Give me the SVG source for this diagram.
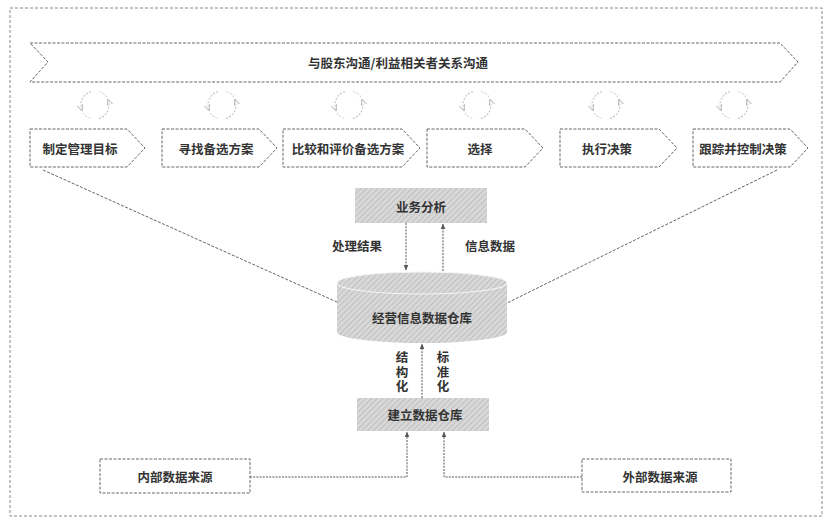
<svg xmlns="http://www.w3.org/2000/svg" width="834" height="527" viewBox="0 0 834 527">
<defs>
<pattern id="hatch" width="4" height="4" patternUnits="userSpaceOnUse" patternTransform="rotate(45)">
<rect width="4" height="4" fill="#d8d8d8"/>
<line x1="0" y1="0" x2="0" y2="4" stroke="#b4b4b4" stroke-width="1.4"/>
</pattern>
<marker id="ah" viewBox="0 0 10 10" refX="9" refY="5" markerWidth="6" markerHeight="6" orient="auto">
<path d="M0,1 L10,5 L0,9 Z" fill="#555"/>
</marker>
<marker id="ahc" viewBox="0 0 10 10" refX="8" refY="5" markerWidth="5" markerHeight="5" orient="auto">
<path d="M0,1 L10,5 L0,9" fill="none" stroke="#c4c4c4" stroke-width="1.5"/>
</marker>
<g id="cyc">
<path d="M-4,-13.5 A14,14 0 0 0 -13,5" fill="none" stroke="#cfcfcf" stroke-width="1.4" stroke-dasharray="2 1.5" marker-end="url(#ahc)"/>
<path d="M4,13.5 A14,14 0 0 0 13,-5" fill="none" stroke="#cfcfcf" stroke-width="1.4" stroke-dasharray="2 1.5" marker-end="url(#ahc)"/>
<path d="M-12,8 A14,14 0 0 0 -3,13.7" fill="none" stroke="#d8d8d8" stroke-width="1.2" stroke-dasharray="2 1.5"/>
<path d="M12,-8 A14,14 0 0 0 3,-13.7" fill="none" stroke="#d8d8d8" stroke-width="1.2" stroke-dasharray="2 1.5"/>
</g>
</defs>
<style>
.frame{fill:none;stroke:#888;stroke-width:1;stroke-dasharray:3 2}
.box{fill:#fff;stroke:#666;stroke-width:1;stroke-dasharray:3 1.5}
.gbox{fill:url(#hatch);stroke:none}
.t{font-family:"Noto Sans CJK SC","Noto Sans",sans-serif;font-weight:bold;font-size:12.5px;fill:#333;text-anchor:middle;dominant-baseline:central}
.v{font-family:"Noto Sans CJK SC","Noto Sans",sans-serif;font-weight:bold;font-size:12.5px;fill:#333;text-anchor:middle;writing-mode:vertical-rl;letter-spacing:2px}
.conn{fill:none;stroke:#666;stroke-width:1;stroke-dasharray:3 1.5}
.arr{fill:none;stroke:#555;stroke-width:1;stroke-dasharray:2 1.2}
</style>
<rect width="834" height="527" fill="#fff"/>
<rect class="frame" x="10" y="8" width="812" height="508"/>

<g id="banner">
<path class="box" d="M30,43 L780,43 L798,62 L780,82 L30,82 L48,62 Z"/>
<text class="t" x="398" y="62">与股东沟通/利益相关者关系沟通</text>
</g>

<g id="cycles">
<use href="#cyc" x="95" y="105"/>
<use href="#cyc" x="222" y="105"/>
<use href="#cyc" x="349" y="105"/>
<use href="#cyc" x="477" y="105"/>
<use href="#cyc" x="606" y="105"/>
<use href="#cyc" x="734" y="105"/>
</g>

<g id="step1"><path class="box" d="M30,129 L127,129 L145,148 L127,167 L30,167 Z"/><text class="t" x="80" y="148">制定管理目标</text></g>
<g id="step2"><path class="box" d="M162,129 L259,129 L277,148 L259,167 L162,167 Z"/><text class="t" x="216" y="148">寻找备选方案</text></g>
<g id="step3"><path class="box" d="M283,129 L402,129 L420,148 L402,167 L283,167 Z"/><text class="t" x="348" y="148">比较和评价备选方案</text></g>
<g id="step4"><path class="box" d="M427,129 L525,129 L543,148 L525,167 L427,167 Z"/><text class="t" x="480" y="148">选择</text></g>
<g id="step5"><path class="box" d="M560,129 L659,129 L677,148 L659,167 L560,167 Z"/><text class="t" x="607" y="148">执行决策</text></g>
<g id="step6"><path class="box" d="M693,129 L790,129 L808,148 L790,167 L693,167 Z"/><text class="t" x="743" y="148">跟踪并控制决策</text></g>

<g id="analysis"><rect class="gbox" x="355" y="188" width="132" height="35"/><text class="t" x="421" y="206">业务分析</text></g>

<g id="warehouse">
<path class="gbox" d="M337,283 L337,332 A85,11 0 0 0 507,332 L507,283 Z"/>
<ellipse cx="422" cy="283" rx="85" ry="11" fill="url(#hatch)" stroke="#f4f4f4" stroke-width="1.2"/>
<text class="t" x="422" y="317">经营信息数据仓库</text>
</g>

<g id="build"><rect class="gbox" x="357" y="398" width="132" height="33"/><text class="t" x="425" y="414">建立数据仓库</text></g>

<g id="internal"><rect class="box" x="100" y="459" width="150" height="34"/><text class="t" x="175" y="476">内部数据来源</text></g>
<g id="external"><rect class="box" x="582" y="459" width="149" height="33"/><text class="t" x="660" y="476">外部数据来源</text></g>

<g id="connectors">
<line class="conn" x1="43" y1="170" x2="337" y2="302"/>
<line class="conn" x1="777" y1="170" x2="507" y2="303"/>
<line class="arr" x1="406" y1="223" x2="406" y2="270" marker-end="url(#ah)"/>
<line class="arr" x1="443" y1="271" x2="443" y2="224" marker-end="url(#ah)"/>
<line class="arr" x1="422" y1="398" x2="422" y2="344" marker-end="url(#ah)"/>
<polyline class="arr" points="250,477 407,477 407,432" marker-end="url(#ah)"/>
<polyline class="arr" points="582,477 444,477 444,432" marker-end="url(#ah)"/>
</g>

<g id="labels">
<text class="t" x="357" y="245">处理结果</text>
<text class="t" x="490" y="245">信息数据</text>
<text class="v" x="402" y="373">结构化</text>
<text class="v" x="443" y="373">标准化</text>
</g>
</svg>
